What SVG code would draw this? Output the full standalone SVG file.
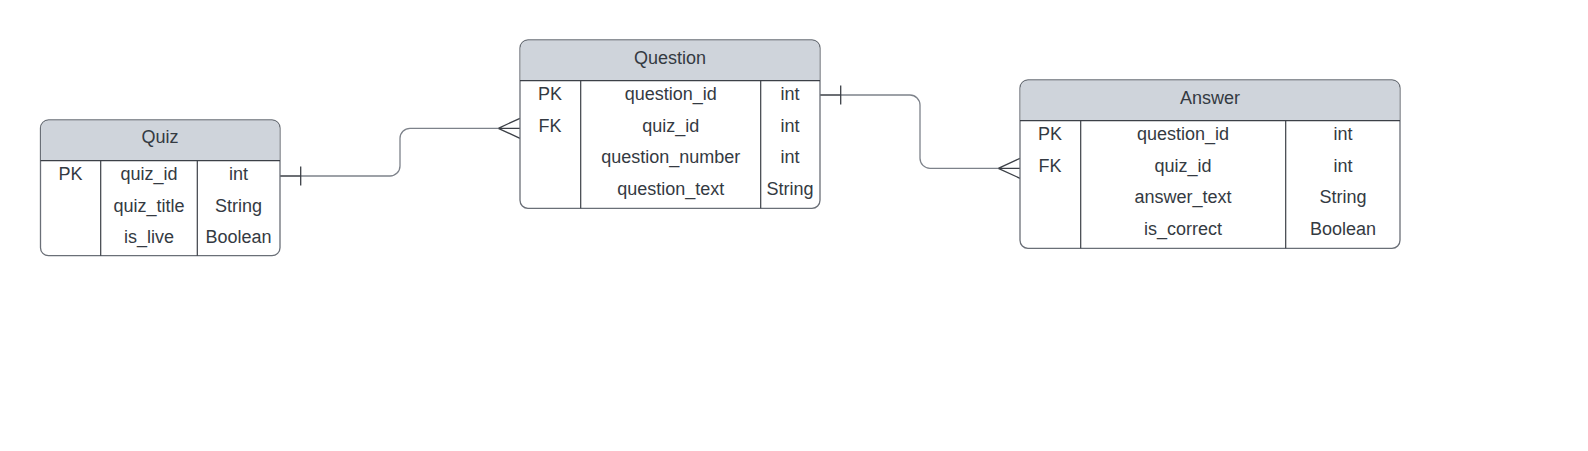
<svg xmlns="http://www.w3.org/2000/svg" width="1588" height="451" viewBox="0 0 1588 451">
<style>
.box{fill:#ffffff;stroke:#6a6f77;stroke-width:1.3}
.hdr{fill:#cfd4db}
.div{stroke:#3c4047;stroke-width:1.2;fill:none}
.t{font-family:"Liberation Sans",Arial,sans-serif;font-size:18px;fill:#343a42;text-anchor:middle}
.ln{fill:none;stroke:#7d828a;stroke-width:1.3}
.end{fill:none;stroke:#3c4047;stroke-width:1.3}
</style>
<rect width="1588" height="451" fill="#ffffff"/>
<g id="connectors">
<path class="ln" d="M300.7,176 H390 A10,10 0 0 0 400,166 V138.3 A10,10 0 0 1 410,128.3 H498"/>
<path class="end" d="M280,176 H300.7 M300.7,166.5 V185.5 M498.3,128.3 H520 M498.3,128.3 L520,118.3 M498.3,128.3 L520,138.3"/>
<path class="ln" d="M840.7,95 H910 A10,10 0 0 1 920,105 V158.3 A10,10 0 0 0 930,168.3 H998.3"/>
<path class="end" d="M820,95 H840.7 M840.7,85.5 V104.5 M998.3,168.3 H1020 M998.3,168.3 L1020,158.3 M998.3,168.3 L1020,178.3"/>
</g>
<g id="quiz">
<rect class="box" x="40.5" y="120" width="239.5" height="135.7" rx="8"/>
<path class="hdr" d="M48.5,120.6 H272 A7.4,7.4 0 0 1 279.4,128 V160.7 H41.1 V128 A7.4,7.4 0 0 1 48.5,120.6 Z"/>
<path class="div" d="M40.5,160.7 H280 M100.7,160.7 V255.7 M197.3,160.7 V255.7"/>
<text class="t" x="160" y="143">Quiz</text>
<text class="t" x="70.6" y="180">PK</text>
<text class="t" x="149" y="180">quiz_id</text>
<text class="t" x="238.6" y="180">int</text>
<text class="t" x="149" y="211.7">quiz_title</text>
<text class="t" x="238.6" y="211.7">String</text>
<text class="t" x="149" y="243.3">is_live</text>
<text class="t" x="238.6" y="243.3">Boolean</text>
</g>
<g id="question">
<rect class="box" x="520" y="40" width="300" height="168.3" rx="8"/>
<path class="hdr" d="M528,40.6 H812 A7.4,7.4 0 0 1 819.4,48 V80.7 H520.6 V48 A7.4,7.4 0 0 1 528,40.6 Z"/>
<path class="div" d="M520,80.7 H820 M580.7,80.7 V208.3 M760.7,80.7 V208.3"/>
<text class="t" x="670" y="64">Question</text>
<text class="t" x="550" y="100">PK</text>
<text class="t" x="670.7" y="100">question_id</text>
<text class="t" x="790" y="100">int</text>
<text class="t" x="550" y="131.7">FK</text>
<text class="t" x="670.7" y="131.7">quiz_id</text>
<text class="t" x="790" y="131.7">int</text>
<text class="t" x="670.7" y="163.3">question_number</text>
<text class="t" x="790" y="163.3">int</text>
<text class="t" x="670.7" y="195">question_text</text>
<text class="t" x="790" y="195">String</text>
</g>
<g id="answer">
<rect class="box" x="1020" y="80" width="380" height="168.3" rx="8"/>
<path class="hdr" d="M1028,80.6 H1392 A7.4,7.4 0 0 1 1399.4,88 V120.7 H1020.6 V88 A7.4,7.4 0 0 1 1028,80.6 Z"/>
<path class="div" d="M1020,120.7 H1400 M1080.7,120.7 V248.3 M1285.7,120.7 V248.3"/>
<text class="t" x="1210" y="104">Answer</text>
<text class="t" x="1050" y="140">PK</text>
<text class="t" x="1183" y="140">question_id</text>
<text class="t" x="1343" y="140">int</text>
<text class="t" x="1050" y="171.7">FK</text>
<text class="t" x="1183" y="171.7">quiz_id</text>
<text class="t" x="1343" y="171.7">int</text>
<text class="t" x="1183" y="203.3">answer_text</text>
<text class="t" x="1343" y="203.3">String</text>
<text class="t" x="1183" y="235">is_correct</text>
<text class="t" x="1343" y="235">Boolean</text>
</g>
</svg>
